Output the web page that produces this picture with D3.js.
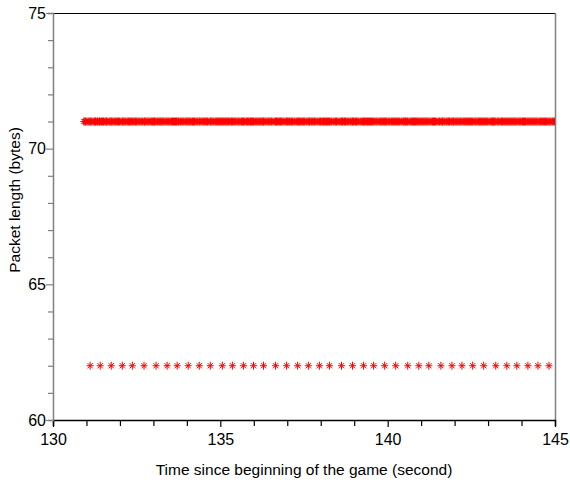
<!DOCTYPE html>
<html>
<head>
<meta charset="utf-8">
<script src="https://cdn.jsdelivr.net/npm/d3@7"></script>
<style>
  html, body { margin: 0; padding: 0; background: #fff; }
  svg { display: block; font-family: "Liberation Sans", Arial, Helvetica, sans-serif; }
</style>
</head>
<body>
<svg id="chart" width="570" height="487"></svg>
<script>
// ---- data ----
const xTicks = [130, 135, 140, 145];
const yTicks = [60, 65, 70, 75];
const xTitle = "Time since beginning of the game (second)";
const yTitle = "Packet length (bytes)";

// packets of 71 bytes (dense stream)
const times71 = [130.92, 130.97, 131.05, 131.11, 131.16, 131.24, 131.29, 131.37, 131.41, 131.48, 131.55, 131.60, 131.68, 131.74, 131.79, 131.86, 131.93, 131.99, 132.07, 132.12, 132.18, 132.26, 132.31, 132.37, 132.45, 132.50, 132.57, 132.64, 132.72, 132.77, 132.84, 132.90, 132.97, 133.03, 133.08, 133.16, 133.22, 133.28, 133.35, 133.41, 133.47, 133.54, 133.60, 133.66, 133.71, 133.79, 133.85, 133.91, 133.98, 134.04, 134.10, 134.17, 134.23, 134.30, 134.37, 134.42, 134.49, 134.55, 134.62, 134.70, 134.75, 134.81, 134.88, 134.94, 135.01, 135.06, 135.13, 135.19, 135.25, 135.32, 135.36, 135.43, 135.50, 135.56, 135.63, 135.69, 135.74, 135.81, 135.88, 135.93, 135.99, 136.06, 136.12, 136.18, 136.24, 136.29, 136.36, 136.43, 136.49, 136.57, 136.65, 136.70, 136.77, 136.83, 136.90, 136.98, 137.03, 137.09, 137.16, 137.23, 137.31, 137.36, 137.42, 137.49, 137.56, 137.63, 137.68, 137.75, 137.82, 137.89, 137.96, 138.01, 138.08, 138.14, 138.20, 138.26, 138.33, 138.40, 138.47, 138.55, 138.62, 138.67, 138.74, 138.81, 138.88, 138.95, 139.00, 139.07, 139.14, 139.21, 139.28, 139.33, 139.40, 139.46, 139.52, 139.58, 139.65, 139.71, 139.78, 139.84, 139.91, 139.97, 140.04, 140.11, 140.17, 140.24, 140.30, 140.36, 140.43, 140.50, 140.55, 140.60, 140.67, 140.74, 140.80, 140.86, 140.93, 140.99, 141.05, 141.11, 141.17, 141.23, 141.30, 141.37, 141.43, 141.51, 141.59, 141.64, 141.71, 141.78, 141.85, 141.92, 141.97, 142.04, 142.10, 142.16, 142.22, 142.29, 142.35, 142.42, 142.48, 142.54, 142.61, 142.67, 142.74, 142.80, 142.87, 142.93, 142.99, 143.06, 143.13, 143.17, 143.23, 143.30, 143.36, 143.43, 143.50, 143.56, 143.62, 143.68, 143.74, 143.80, 143.86, 143.93, 143.99, 144.06, 144.12, 144.19, 144.25, 144.31, 144.37, 144.43, 144.49, 144.56, 144.62, 144.69, 144.75, 144.82, 144.88, 144.95, 145.01, 145.08];

// more 71-byte packets (second flow, same length)
const times71b = [130.95, 131.01, 131.08, 131.13, 131.20, 131.27, 131.33, 131.39, 131.45, 131.51, 131.58, 131.64, 131.71, 131.76, 131.83, 131.89, 131.96, 132.03, 132.09, 132.15, 132.22, 132.28, 132.34, 132.41, 132.47, 132.54, 132.60, 132.68, 132.74, 132.81, 132.87, 132.94, 133.00, 133.05, 133.12, 133.19, 133.25, 133.31, 133.38, 133.44, 133.50, 133.57, 133.63, 133.69, 133.75, 133.82, 133.88, 133.95, 134.01, 134.07, 134.13, 134.20, 134.27, 134.33, 134.39, 134.46, 134.52, 134.59, 134.66, 134.72, 134.78, 134.85, 134.91, 134.97, 135.03, 135.09, 135.16, 135.22, 135.28, 135.34, 135.40, 135.46, 135.53, 135.59, 135.66, 135.71, 135.78, 135.84, 135.90, 135.96, 136.03, 136.09, 136.15, 136.21, 136.27, 136.33, 136.40, 136.46, 136.53, 136.61, 136.68, 136.73, 136.80, 136.87, 136.94, 137.00, 137.06, 137.13, 137.20, 137.27, 137.34, 137.39, 137.46, 137.52, 137.59, 137.66, 137.72, 137.79, 137.85, 137.92, 137.99, 138.05, 138.11, 138.17, 138.23, 138.30, 138.37, 138.44, 138.51, 138.58, 138.65, 138.71, 138.78, 138.84, 138.91, 138.97, 139.04, 139.11, 139.18, 139.25, 139.31, 139.37, 139.43, 139.49, 139.55, 139.62, 139.68, 139.75, 139.81, 139.88, 139.94, 140.01, 140.07, 140.14, 140.20, 140.27, 140.33, 140.40, 140.47, 140.53, 140.58, 140.64, 140.71, 140.77, 140.83, 140.90, 140.96, 141.02, 141.08, 141.14, 141.20, 141.27, 141.34, 141.40, 141.47, 141.55, 141.62, 141.68, 141.75, 141.82, 141.89, 141.95, 142.01, 142.07, 142.13, 142.19, 142.26, 142.32, 142.39, 142.45, 142.51, 142.58, 142.64, 142.71, 142.77, 142.84, 142.90, 142.96, 143.03, 143.10, 143.15, 143.20, 143.27, 143.33, 143.40, 143.47, 143.53, 143.59, 143.65, 143.71, 143.77, 143.83, 143.90, 143.96, 144.03, 144.09, 144.16, 144.22, 144.28, 144.34, 144.40, 144.46, 144.53, 144.59, 144.66, 144.72, 144.79, 144.85, 144.92, 144.98, 145.05];

// packets of 62 bytes (sparse stream)
const times62 = [131.11, 131.41, 131.74, 132.07, 132.37, 132.72, 133.08, 133.41, 133.71, 134.04, 134.37, 134.70, 135.06, 135.36, 135.69, 135.99, 136.29, 136.65, 136.98, 137.31, 137.63, 137.96, 138.26, 138.62, 138.95, 139.28, 139.58, 139.91, 140.24, 140.60, 140.93, 141.23, 141.59, 141.92, 142.22, 142.54, 142.87, 143.23, 143.56, 143.86, 144.19, 144.49, 144.82, 145.12];

const series = [
  { len: 71, times: times71.concat(times71b) },
  { len: 62, times: times62 }
];

// ---- layout ----
const svg = d3.select("#chart");
const L = 53, R = 555, T = 13, B = 420;
const x = d3.scaleLinear().domain([130, 145]).range([L, R]);
const y = d3.scaleLinear().domain([60, 75]).range([B, T]);

svg.append("defs").append("clipPath").attr("id", "clip")
  .append("rect").attr("x", L).attr("y", T).attr("width", R - L).attr("height", B - T);

// frame: top black, right gray
svg.append("line").attr("x1", L).attr("x2", R).attr("y1", T + 0.5).attr("y2", T + 0.5)
  .attr("stroke", "#000").attr("stroke-width", 1.2);
svg.append("line").attr("x1", R + 0.5).attr("x2", R + 0.5).attr("y1", T).attr("y2", B)
  .attr("stroke", "#808080").attr("stroke-width", 1.5);

// markers
const star = "M0,-4V4M-3.5,0H3.5M-2.6,-2.6L2.6,2.6M-2.6,2.6L2.6,-2.6";
const gm = svg.append("g").attr("clip-path", "url(#clip)");
series.forEach(s => {
  gm.append("g").selectAll("path").data(s.times).join("path")
    .attr("d", star)
    .attr("transform", d => `translate(${x(d)},${y(s.len)})`)
    .attr("fill", "none")
    .attr("stroke", "#ff0000")
    .attr("stroke-width", 1);
});

// x axis
const xAxis = d3.axisBottom(x).tickValues(d3.range(130, 145.01, 1))
  .tickSize(6).tickFormat(d => xTicks.includes(d) ? d : "");
const gx = svg.append("g").attr("transform", `translate(0,${B})`).call(xAxis);
gx.select(".domain").attr("stroke", "#000").attr("stroke-width", 1.5);
gx.selectAll(".tick line").attr("stroke", "#000").attr("stroke-width", 1.2)
  .attr("y2", d => xTicks.includes(d) ? 7 : 6);
gx.selectAll(".tick text").attr("font-size", 16).attr("fill", "#000")
  .attr("font-family", '"Liberation Sans", Arial, sans-serif').attr("dy", "0.98em").attr("y", 9);

// y axis
const yAxis = d3.axisLeft(y).tickValues(d3.range(60, 75.01, 1))
  .tickSize(5).tickFormat(d => yTicks.includes(d) ? d : "");
const gy = svg.append("g").attr("transform", `translate(${L},0)`).call(yAxis);
gy.select(".domain").attr("stroke", "#808080").attr("stroke-width", 1.5);
gy.selectAll(".tick line").attr("stroke", "#808080").attr("stroke-width", 1.2)
  .attr("x2", d => yTicks.includes(d) ? -7 : -5);
gy.selectAll(".tick text").attr("font-size", 16).attr("fill", "#000")
  .attr("font-family", '"Liberation Sans", Arial, sans-serif').attr("x", -7);

// titles
svg.append("text").attr("x", 304).attr("y", 475).attr("text-anchor", "middle")
  .attr("font-size", 15.5).attr("fill", "#000").text(xTitle);
svg.append("text").attr("transform", "translate(20,200) rotate(-90)")
  .attr("text-anchor", "middle").attr("font-size", 15.5).attr("fill", "#000").text(yTitle);
</script>
</body>
</html>
